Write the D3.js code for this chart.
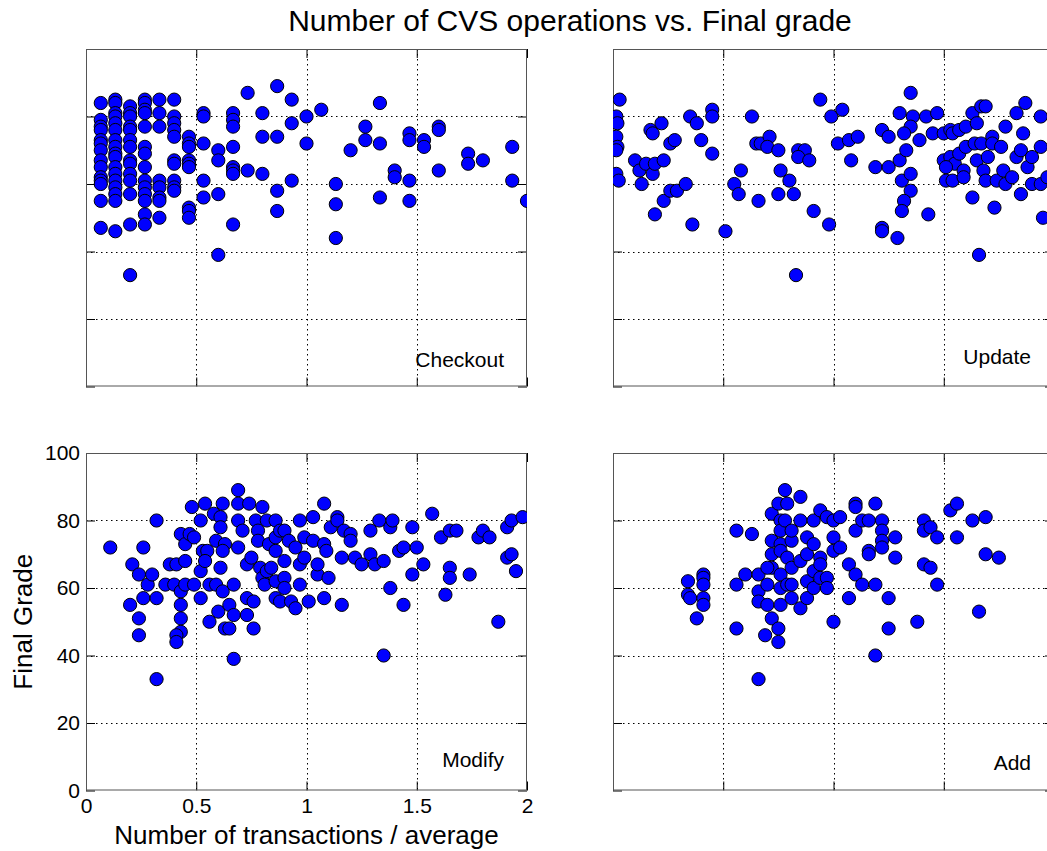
<!DOCTYPE html>
<html>
<head>
  <meta charset="utf-8">
  <title>Number of CVS operations vs. Final grade</title>
  <script src="https://cdn.jsdelivr.net/npm/d3@7"></script>
  <style>
    body { margin: 0; background: #fff; }
    text { font-family: "Liberation Sans", Arial, Helvetica, sans-serif; fill: #000; }
  </style>
</head>
<body>
<script>
  // size of the figure
  const w = 1047;
  const h = 851;

  // tick values (shared by all four panels)
  const xTicks = [0, 0.5, 1, 1.5, 2];
  const yTicks = [0, 20, 40, 60, 80, 100];

  // [transactions / average, final grade]
  const checkout = [
    [0.067,84],[0.067,79],[0.067,77],[0.067,76],[0.067,73],[0.067,72],[0.067,70],[0.067,67],[0.067,65],[0.067,62],[0.067,61],[0.067,60],[0.067,55],[0.067,47],
    [0.133,85],[0.133,84],[0.133,81],[0.133,80],[0.133,78],[0.133,76],[0.133,73],[0.133,71],[0.133,69],[0.133,68],[0.133,65],[0.133,63],[0.133,61],[0.133,59],[0.133,57],[0.133,55],[0.133,46],
    [0.2,83],[0.2,81],[0.2,80],[0.2,77],[0.2,76],[0.2,73],[0.2,71],[0.2,67],[0.2,66],[0.2,63],[0.2,61],[0.2,57],[0.2,48],[0.2,33],
    [0.267,85],[0.267,84],[0.267,82],[0.267,81],[0.267,77],[0.267,71],[0.267,69],[0.267,65],[0.267,61],[0.267,59],[0.267,57],[0.267,55],[0.267,51],[0.267,48],
    [0.333,85],[0.333,81],[0.333,77],[0.333,61],[0.333,59],[0.333,56],[0.333,55],[0.333,50],
    [0.4,85],[0.4,80],[0.4,78],[0.4,76],[0.4,74],[0.4,67],[0.4,66],[0.4,61],[0.4,59],[0.4,58],
    [0.467,74],[0.467,72],[0.467,71],[0.467,67],[0.467,66],[0.467,65],[0.467,53],[0.467,52],[0.467,50],
    [0.533,81],[0.533,80],[0.533,72],[0.533,61],[0.533,56],
    [0.6,70],[0.6,67],[0.6,57],[0.6,39],
    [0.667,81],[0.667,79],[0.667,77],[0.667,71],[0.667,65],[0.667,64],[0.667,63],[0.667,48],
    [0.733,87],[0.733,64],
    [0.8,81],[0.8,74],[0.8,63],
    [0.867,89],[0.867,74],[0.867,58],[0.867,52],
    [0.933,85],[0.933,78],[0.933,61],
    [1.0,80],[1.0,72],
    [1.067,82],
    [1.133,60],[1.133,54],[1.133,44],
    [1.2,70],
    [1.267,77],[1.267,73],
    [1.333,84],[1.333,72],[1.333,56],
    [1.4,64],[1.4,62],
    [1.467,75],[1.467,73],[1.467,61],[1.467,55],
    [1.533,73],[1.533,71],
    [1.6,77],[1.6,76],[1.6,64],
    [1.733,69],[1.733,66],
    [1.8,67],
    [1.933,71],[1.933,61],
    [2.0,55]
  ];

  const update = [
    [0.03,85],[0.015,80],[0.02,78],[0.015,74],[0.02,71],[0.015,70],[0.015,63],[0.026,61],
    [0.10,67],[0.12,64],[0.13,60],[0.15,66],[0.17,76],[0.18,75],[0.18,63],[0.19,66],[0.22,78],[0.23,67],
    [0.19,51],[0.23,55],[0.26,72],[0.28,73],[0.26,58],[0.29,58],[0.33,60],[0.35,80],[0.38,78],[0.40,73],
    [0.36,48],[0.45,82],[0.45,80],[0.45,69],[0.51,46],[0.55,60],[0.58,64],[0.57,57],[0.63,80],[0.65,72],
    [0.67,72],[0.71,74],[0.70,71],[0.75,70],[0.76,64],[0.80,61],[0.82,57],[0.75,57],[0.66,55],[0.84,70],
    [0.87,70],[0.84,68],[0.89,67],[0.83,33],[0.91,52],[0.94,85],[0.98,48],[0.99,80],[1.04,82],[1.02,72],
    [1.07,73],[1.11,74],[1.08,67],[1.19,65],[1.22,76],[1.25,74],[1.25,65],[1.30,67],[1.30,81],[1.35,87],
    [1.36,80],[1.35,77],[1.32,75],[1.33,70],[1.31,61],[1.35,63],[1.35,58],[1.32,55],[1.31,52],[1.22,47],
    [1.22,46],[1.29,44],[1.39,73],[1.42,80],[1.45,75],[1.47,81],[1.43,51],[1.50,75],[1.53,76],[1.54,75],
    [1.57,76],[1.60,77],[1.63,81],[1.67,83],[1.69,83],[1.65,78],[1.50,67],[1.53,68],[1.55,66],[1.57,69],
    [1.59,64],[1.51,65],[1.51,61],[1.54,61],[1.59,62],[1.60,71],[1.64,72],[1.67,72],[1.65,67],[1.68,64],
    [1.70,68],[1.72,74],[1.72,72],[1.76,71],[1.69,61],[1.74,61],[1.78,60],[1.77,64],[1.81,62],[1.63,56],
    [1.73,53],[1.66,39],[1.78,77],[1.83,81],[1.87,84],[1.86,75],[1.83,68],[1.85,70],[1.88,65],[1.90,68],
    [1.85,57],[1.90,60],[1.94,60],[1.94,80],[1.94,71],[1.95,50],[1.97,62]
  ];

  const modify = [
    [0.11,72],[0.21,67],[0.24,64],[0.26,72],[0.20,55],[0.24,51],[0.24,46],[0.26,57],[0.28,61],[0.30,64],
    [0.32,57],[0.32,80],[0.32,33],[0.36,61],[0.38,67],[0.41,67],[0.40,61],[0.43,76],[0.43,59],[0.43,55],
    [0.43,51],[0.43,47],[0.41,46],[0.41,44],[0.45,68],[0.45,61],[0.45,73],[0.47,76],[0.48,84],[0.49,75],
    [0.49,61],[0.52,80],[0.52,65],[0.52,57],[0.54,85],[0.53,71],[0.55,71],[0.54,68],[0.56,61],[0.56,50],
    [0.58,82],[0.59,74],[0.59,61],[0.61,81],[0.61,78],[0.61,66],[0.60,53],[0.62,85],[0.63,73],[0.62,71],
    [0.62,59],[0.63,48],[0.65,48],[0.65,55],[0.67,61],[0.67,52],[0.67,39],[0.69,89],[0.69,85],[0.69,80],
    [0.69,72],[0.71,77],[0.73,67],[0.73,57],[0.74,85],[0.73,52],[0.75,69],[0.76,56],[0.76,48],[0.77,80],
    [0.78,77],[0.78,74],[0.79,66],[0.80,84],[0.80,63],[0.81,61],[0.82,80],[0.82,65],[0.83,73],[0.84,66],
    [0.86,80],[0.86,75],[0.86,71],[0.86,62],[0.86,57],[0.88,56],[0.88,77],[0.90,77],[0.90,68],[0.90,63],
    [0.90,60],[0.92,74],[0.93,56],[0.95,72],[0.95,54],[0.97,80],[0.97,67],[0.97,61],[0.99,75],[0.99,69],
    [1.01,56],[1.03,81],[1.03,74],[1.05,64],[1.05,67],[1.08,85],[1.08,73],[1.08,57],[1.09,71],[1.10,63],
    [1.11,78],[1.14,81],[1.14,80],[1.16,69],[1.16,55],[1.17,77],[1.20,76],[1.20,74],[1.22,69],[1.25,67],
    [1.29,77],[1.29,70],[1.31,67],[1.33,80],[1.35,68],[1.35,40],[1.38,78],[1.38,60],[1.39,80],[1.42,71],
    [1.44,72],[1.44,55],[1.48,78],[1.48,64],[1.50,72],[1.53,67],[1.57,82],[1.61,75],[1.63,58],[1.65,77],
    [1.68,77],[1.65,66],[1.65,63],[1.74,64],[1.78,75],[1.80,77],[1.83,75],[1.87,50],[1.91,78],[1.93,80],
    [1.98,81],[1.91,69],[1.93,70],[1.95,65]
  ];

  const add = [
    [0.34,62],[0.34,58],[0.35,57],[0.38,51],[0.41,64],[0.41,63],[0.41,61],[0.41,57],[0.41,55],
    [0.56,77],[0.63,76],[0.56,61],[0.60,64],[0.56,48],[0.66,33],[0.66,64],[0.66,59],[0.66,56],[0.69,46],
    [0.70,55],[0.72,51],[0.75,48],[0.75,44],[0.72,82],[0.72,74],[0.72,70],[0.72,66],[0.70,61],[0.70,66],
    [0.75,85],[0.76,80],[0.76,77],[0.76,73],[0.76,71],[0.76,64],[0.76,60],[0.76,55],
    [0.78,89],[0.78,80],[0.79,85],[0.79,69],[0.79,61],[0.81,74],[0.81,66],[0.81,61],[0.81,57],[0.81,77],
    [0.85,87],[0.85,80],[0.85,54],[0.85,68],[0.88,75],[0.88,70],[0.88,62],[0.88,57],[0.91,80],[0.91,65],
    [0.91,73],[0.91,60],[0.94,83],[0.94,69],[0.94,67],[0.94,63],[0.97,81],[0.97,63],[0.97,60],
    [1.00,80],[1.00,75],[1.00,71],[1.00,50],[1.03,81],[1.03,72],[1.07,67],[1.07,57],[1.10,85],[1.10,84],
    [1.10,77],[1.10,64],[1.13,80],[1.13,61],[1.16,71],[1.16,70],[1.16,80],[1.19,85],[1.19,61],[1.19,40],
    [1.22,80],[1.22,77],[1.22,74],[1.22,72],[1.25,57],[1.25,48],[1.28,75],[1.28,69],[1.38,50],[1.41,80],
    [1.41,77],[1.41,67],[1.44,78],[1.44,66],[1.47,75],[1.47,61],[1.53,83],[1.56,85],[1.56,75],[1.63,80],
    [1.69,81],[1.66,53],[1.69,70],[1.75,69]
  ];

  // layout of the 2 x 2 grid (pixel boxes of each axes)
  const pw = 441;
  const ph = 337.5;
  const panels = [
    { name: "Checkout", data: checkout, left: 86,  top: 49,  labelY: 318, labels: false },
    { name: "Update",   data: update,   left: 613, top: 49,  labelY: 315, labels: false },
    { name: "Modify",   data: modify,   left: 86,  top: 453, labelY: 314, labels: true },
    { name: "Add",      data: add,      left: 613, top: 453, labelY: 317, labels: true, noTickText: true }
  ];

  const svg = d3.select("body")
    .append("svg")
    .attr("width", w)
    .attr("height", h);

  const xScale = d3.scaleLinear().domain([0, 2]).range([0, pw]);
  const yScale = d3.scaleLinear().domain([0, 100]).range([ph, 0]);

  panels.forEach(function (p, i) {
    const g = svg.append("g")
      .attr("transform", "translate(" + p.left + "," + p.top + ")");

    // dotted grid
    g.selectAll(".gx")
      .data(xTicks.slice(1, -1))
      .enter().append("line")
      .attr("x1", d => Math.round(xScale(d)) + 0.5)
      .attr("x2", d => Math.round(xScale(d)) + 0.5)
      .attr("y1", 0).attr("y2", ph)
      .attr("stroke", "#000")
      .attr("stroke-dasharray", "1.5,3.5");
    g.selectAll(".gy")
      .data(yTicks.slice(1, -1))
      .enter().append("line")
      .attr("y1", d => Math.round(yScale(d)) + 0.5)
      .attr("y2", d => Math.round(yScale(d)) + 0.5)
      .attr("x1", 0).attr("x2", pw)
      .attr("stroke", "#000")
      .attr("stroke-dasharray", "1.5,3.5");

    // ticks on all four sides, pointing in
    const showText = p.name === "Modify";
    const fmt = showText ? d3.format("") : () => "";
    const axes = [
      [d3.axisBottom(xScale).tickValues(xTicks), "translate(0," + ph + ")"],
      [d3.axisTop(xScale).tickValues(xTicks).tickFormat(() => ""), "translate(0,0)"],
      [d3.axisLeft(yScale).tickValues(yTicks), "translate(0,0)"],
      [d3.axisRight(yScale).tickValues(yTicks).tickFormat(() => ""), "translate(" + pw + ",0)"]
    ];
    axes.forEach(function (a, j) {
      const ax = a[0].tickSizeInner(-9).tickSizeOuter(0);
      if (j === 0 || j === 2) ax.tickFormat(fmt);
      if (j === 0) ax.tickPadding(8);
      if (j === 2) ax.tickPadding(6);
      const sel = g.append("g").attr("transform", a[1]).call(ax);
      sel.select(".domain").remove();
      sel.selectAll("line").attr("stroke", "#000");
      sel.selectAll("text")
        .attr("font-size", 21)
        .attr("font-family", "Liberation Sans, Arial, sans-serif")
        .attr("fill", "#000");
    });

    // box
    g.append("rect")
      .attr("x", 0.5).attr("y", 0.5)
      .attr("width", pw - 1).attr("height", ph - 1)
      .attr("fill", "none")
      .attr("stroke", "#555");

    // markers, clipped to the axes
    svg.append("clipPath")
      .attr("id", "clip" + i)
      .append("rect")
      .attr("width", pw).attr("height", ph);

    g.append("g")
      .attr("clip-path", "url(#clip" + i + ")")
      .selectAll("circle")
      .data(p.data)
      .enter()
      .append("circle")
      .attr("cx", d => xScale(d[0]))
      .attr("cy", d => yScale(d[1]))
      .attr("r", 6.6)
      .attr("fill", "#0000ff")
      .attr("stroke", "#000")
      .attr("stroke-width", 1);

    // panel name
    g.append("text")
      .attr("x", 418)
      .attr("y", p.labelY)
      .attr("text-anchor", "end")
      .attr("font-size", 21)
      .text(p.name);
  });

  // title and axis labels
  svg.append("text")
    .attr("x", 570).attr("y", 31)
    .attr("text-anchor", "middle")
    .attr("font-size", 30)
    .text("Number of CVS operations vs. Final grade");

  svg.append("text")
    .attr("x", 86 + pw / 2).attr("y", 844)
    .attr("text-anchor", "middle")
    .attr("font-size", 26)
    .text("Number of transactions / average");

  svg.append("text")
    .attr("transform", "translate(32," + (453 + ph / 2) + ") rotate(-90)")
    .attr("text-anchor", "middle")
    .attr("font-size", 26)
    .text("Final Grade");
</script>
</body>
</html>
